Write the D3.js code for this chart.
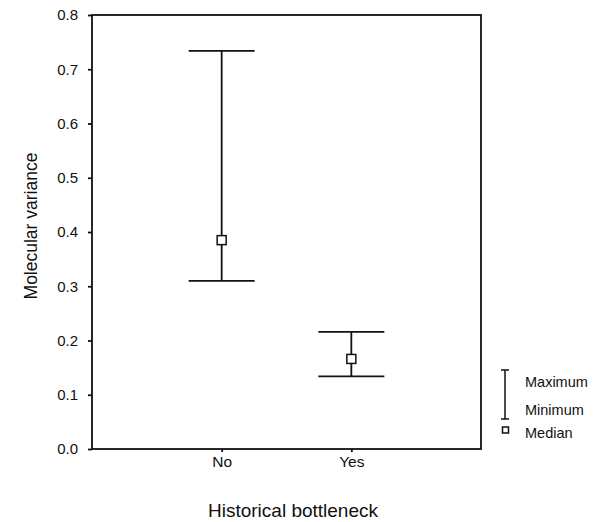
<!DOCTYPE html>
<html>
<head>
<meta charset="utf-8">
<script src="https://cdn.jsdelivr.net/npm/d3@7"></script>
<style>
  body { margin: 0; background: #fff; }
  svg { display: block; font-family: "Liberation Sans", Arial, sans-serif; }
  .axis text { fill: #111; }
</style>
</head>
<body>
<div class="render"></div>
<script>
'use strict';

// values
var categories = ['No', 'Yes'];
var maxVals = [0.734, 0.216];
var minVals = [0.310, 0.134];
var medianVals = [0.385, 0.166];
var yTicks = [0, 0.1, 0.2, 0.3, 0.4, 0.5, 0.6, 0.7, 0.8];
var legendLabels = ['Maximum', 'Minimum', 'Median'];

function draw() {
  var w = 598;
  var h = 522;
  var padL = 92, padR = 481, padT = 15, padB = 449;
  var lw = 1.8;

  var svg = d3.select('.render').append('svg').attr('width', w).attr('height', h);

  var x = d3.scalePoint().domain(categories).range([padL, padR]).padding(1);
  var y = d3.scaleLinear().domain([0, 0.8]).range([padB, padT]);

  var yAxis = d3.axisLeft(y).tickValues(yTicks).tickFormat(d3.format('.1f')).tickSize(4).tickPadding(10);
  var xAxis = d3.axisBottom(x).tickSize(3).tickPadding(4);

  var gy = svg.append('g').attr('class', 'axis').attr('transform', 'translate(' + padL + ',0)').call(yAxis);
  var gx = svg.append('g').attr('class', 'axis').attr('transform', 'translate(0,' + padB + ')').call(xAxis);
  gy.select('.domain').remove();
  gx.select('.domain').remove();
  gy.selectAll('line').attr('stroke', '#111').attr('stroke-width', lw);
  gx.selectAll('line').attr('stroke', '#111').attr('stroke-width', lw);
  gy.selectAll('text').style('font-size', '15px');
  gx.selectAll('text').style('font-size', '15.5px');

  // frame
  svg.append('rect').attr('x', padL).attr('y', padT).attr('width', padR - padL).attr('height', padB - padT)
    .attr('fill', 'none').attr('stroke', '#111').attr('stroke-width', lw);

  var data = categories.map(function (c, i) {
    return { cat: c, max: maxVals[i], min: minVals[i], med: medianVals[i] };
  });
  var capHalf = 33;
  var sq = 9;

  var bars = svg.selectAll('.bar').data(data).enter().append('g').attr('class', 'bar');
  bars.append('line').attr('x1', function (d) { return x(d.cat); }).attr('x2', function (d) { return x(d.cat); })
    .attr('y1', function (d) { return y(d.max); }).attr('y2', function (d) { return y(d.min); })
    .attr('stroke', '#111').attr('stroke-width', lw);
  bars.append('line').attr('x1', function (d) { return x(d.cat) - capHalf; }).attr('x2', function (d) { return x(d.cat) + capHalf; })
    .attr('y1', function (d) { return y(d.max); }).attr('y2', function (d) { return y(d.max); })
    .attr('stroke', '#111').attr('stroke-width', lw);
  bars.append('line').attr('x1', function (d) { return x(d.cat) - capHalf; }).attr('x2', function (d) { return x(d.cat) + capHalf; })
    .attr('y1', function (d) { return y(d.min); }).attr('y2', function (d) { return y(d.min); })
    .attr('stroke', '#111').attr('stroke-width', lw);
  bars.append('rect').attr('x', function (d) { return x(d.cat) - sq / 2; }).attr('y', function (d) { return y(d.med) - sq / 2; })
    .attr('width', sq).attr('height', sq).attr('fill', '#fff').attr('stroke', '#111').attr('stroke-width', 1.5);

  // axis titles
  svg.append('text').text('Molecular variance').attr('transform', 'translate(37,226)rotate(-90)')
    .attr('text-anchor', 'middle').style('font-size', '17.5px').attr('fill', '#111');
  svg.append('text').text('Historical bottleneck').attr('x', 293).attr('y', 517)
    .attr('text-anchor', 'middle').style('font-size', '19px').attr('fill', '#111');

  // legend
  var lg = svg.append('g').attr('transform', 'translate(505,0)');
  lg.append('line').attr('x1', 0).attr('x2', 0).attr('y1', 370).attr('y2', 419).attr('stroke', '#111').attr('stroke-width', 1.5);
  lg.append('line').attr('x1', -4).attr('x2', 4).attr('y1', 370).attr('y2', 370).attr('stroke', '#111').attr('stroke-width', 1.5);
  lg.append('line').attr('x1', -4).attr('x2', 4).attr('y1', 419).attr('y2', 419).attr('stroke', '#111').attr('stroke-width', 1.5);
  lg.append('rect').attr('x', -2.5).attr('y', 427).attr('width', 6).attr('height', 6)
    .attr('fill', '#fff').attr('stroke', '#111').attr('stroke-width', 1.5);
  lg.selectAll('.lt').data(legendLabels).enter().append('text').attr('class', 'lt')
    .attr('x', 20).attr('y', function (d, i) { return [387, 415, 438][i]; })
    .text(function (d) { return d; }).style('font-size', '14.5px').attr('fill', '#111');
}
draw();
</script>
</body>
</html>
